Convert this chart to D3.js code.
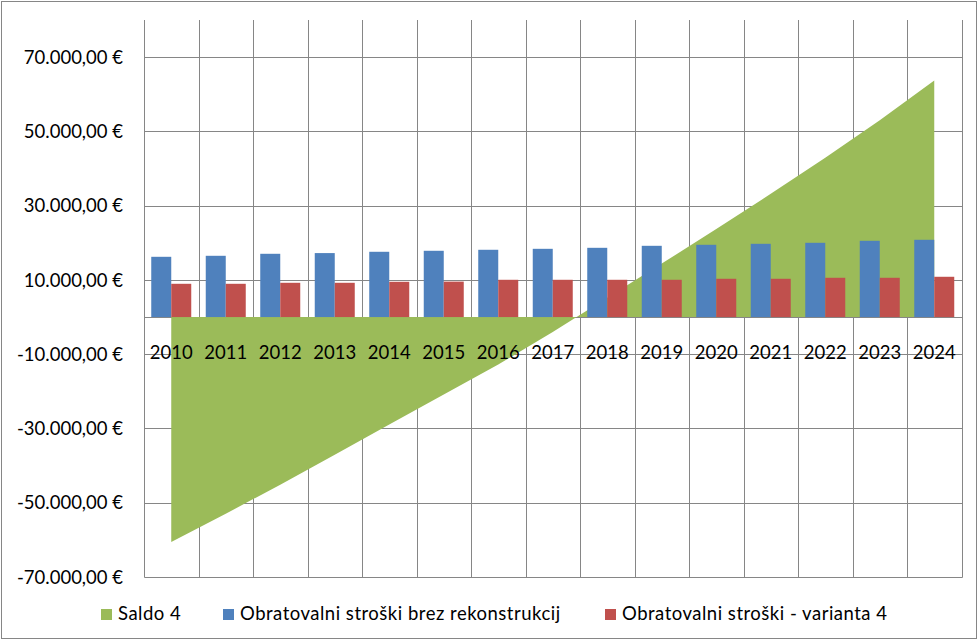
<!DOCTYPE html>
<html>
<head>
<meta charset="utf-8">
<script src="https://cdn.jsdelivr.net/npm/d3@7"></script>
<style>
  body { margin: 0; background: #fff; }
  text { font-family: Lato, "Open Sans", sans-serif; fill: #000; }
</style>
</head>
<body>
<div id="chart"></div>
<script>
// data
const years = [2010, 2011, 2012, 2013, 2014, 2015, 2016, 2017, 2018, 2019, 2020, 2021, 2022, 2023, 2024];
const saldo4 = [-60600, -52970, -45140, -37070, -28910, -20830, -12800, -4000, 5200, 14400, 23700, 33200, 42900, 53000, 63700];
const costsNoReconstruction = [16230, 16500, 17040, 17230, 17580, 17850, 18120, 18380, 18650, 19190, 19460, 19730, 20000, 20540, 20810];
const costsVariant4 = [8960, 8960, 9230, 9230, 9500, 9550, 10040, 10040, 10040, 10040, 10310, 10310, 10580, 10580, 10850];
const seriesNames = ["Saldo 4", "Obratovalni stroški brez rekonstrukcij", "Obratovalni stroški - varianta 4"];
const seriesColors = ["#9BBB59", "#4F81BD", "#C0504D"];
const yTicks = [-70000, -50000, -30000, -10000, 10000, 30000, 50000, 70000];

const width = 980, height = 641;
const plot = { left: 144, right: 961.5, top: 20, bottom: 577 };
const gridColor = "#868686";

const svg = d3.select("#chart")
  .append("svg")
  .attr("width", width)
  .attr("height", height);

// chart border
svg.append("rect")
  .attr("x", 1.5)
  .attr("y", 1.5)
  .attr("width", 975)
  .attr("height", 637)
  .attr("fill", "#fff")
  .attr("stroke", gridColor);

const x = d3.scaleBand().domain(years).range([plot.left, plot.right]);
const bw = x.bandwidth();
const xInner = d3.scaleBand()
  .domain(["brez", "v4"])
  .range([bw * 0.133, bw * 0.867]);

const y = d3.scaleLinear()
  .domain([-70000, 80000])
  .range([plot.bottom, plot.top]);

const crisp = v => Math.round(v) + 0.5;

const locale = d3.formatLocale({
  decimal: ",",
  thousands: ".",
  grouping: [3],
  currency: ["", " €"],
  minus: "-"
});
const fmt = locale.format("$,.2f");

// grid
const grid = svg.append("g")
  .attr("stroke", gridColor)
  .attr("stroke-width", 1);

grid.selectAll("line.v")
  .data(years.map(d => x(d)).concat([plot.right]))
  .enter()
  .append("line")
  .attr("class", "v")
  .attr("x1", d => crisp(d))
  .attr("x2", d => crisp(d))
  .attr("y1", plot.top)
  .attr("y2", crisp(plot.bottom));

grid.selectAll("line.h")
  .data(yTicks.concat([0]))
  .enter()
  .append("line")
  .attr("class", "h")
  .attr("x1", crisp(plot.left))
  .attr("x2", crisp(plot.right))
  .attr("y1", d => crisp(y(d)))
  .attr("y2", d => crisp(y(d)));

// Saldo 4 area
const area = d3.area()
  .x((d, i) => x(years[i]) + bw / 2)
  .y0(y(0))
  .y1(d => y(d));

svg.append("path")
  .datum(saldo4)
  .attr("fill", seriesColors[0])
  .attr("d", area);

// bars
const bars = svg.append("g");

bars.selectAll("rect.brez")
  .data(costsNoReconstruction)
  .enter()
  .append("rect")
  .attr("class", "brez")
  .attr("x", (d, i) => x(years[i]) + xInner("brez"))
  .attr("width", xInner.bandwidth())
  .attr("y", d => y(d))
  .attr("height", d => y(0) - y(d))
  .attr("fill", seriesColors[1]);

bars.selectAll("rect.v4")
  .data(costsVariant4)
  .enter()
  .append("rect")
  .attr("class", "v4")
  .attr("x", (d, i) => x(years[i]) + xInner("v4"))
  .attr("width", xInner.bandwidth())
  .attr("y", d => y(d))
  .attr("height", d => y(0) - y(d))
  .attr("fill", seriesColors[2]);

// category labels
svg.append("g")
  .selectAll("text")
  .data(years)
  .enter()
  .append("text")
  .attr("x", d => x(d) + bw / 2)
  .attr("y", 358.5)
  .attr("text-anchor", "middle")
  .style("font-size", "18.5px")
  .text(d => d);

// value axis labels
svg.append("g")
  .selectAll("text")
  .data(yTicks)
  .enter()
  .append("text")
  .attr("x", 123)
  .attr("y", d => y(d))
  .attr("dy", "0.36em")
  .attr("text-anchor", "end")
  .style("font-size", "18.5px")
  .text(d => fmt(d));

// legend
const legendX = [101, 223, 605];
const legend = svg.append("g")
  .selectAll("g")
  .data(seriesNames)
  .enter()
  .append("g")
  .attr("transform", (d, i) => "translate(" + legendX[i] + ",609)");

legend.append("rect")
  .attr("width", 11)
  .attr("height", 11)
  .attr("fill", (d, i) => seriesColors[i]);

legend.append("text")
  .attr("x", 17)
  .attr("y", 10.5)
  .style("font-size", "18.5px")
  .style("letter-spacing", "0.5px")
  .text(d => d);
</script>
</body>
</html>
